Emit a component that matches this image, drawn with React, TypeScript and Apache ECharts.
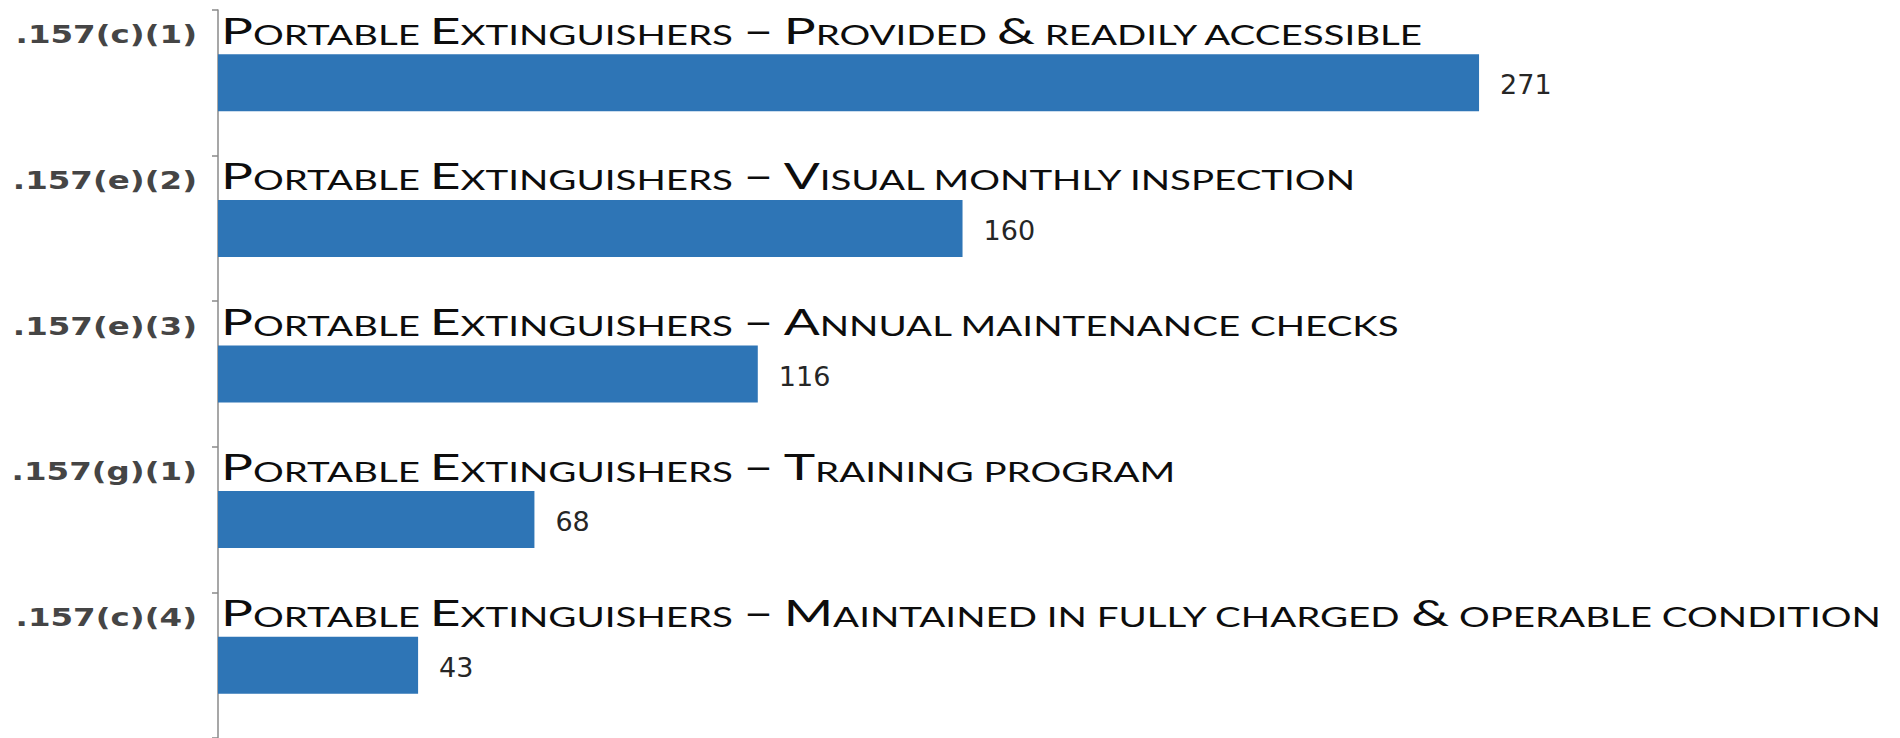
import React, { useEffect, useRef } from "react";
import * as echarts from "echarts";

const codes = [".157(c)(1)", ".157(e)(2)", ".157(e)(3)", ".157(g)(1)", ".157(c)(4)"];
const titles = [
  "Portable Extinguishers – Provided & readily accessible",
  "Portable Extinguishers – Visual monthly inspection",
  "Portable Extinguishers – Annual maintenance checks",
  "Portable Extinguishers – Training program",
  "Portable Extinguishers – Maintained in fully charged & operable condition",
];
const values = [271, 160, 116, 68, 43];
const axisMax = 300;

function smallCaps(s: string): string {
  let out = "";
  let cur = "";
  let curStyle = "";
  for (const ch of s) {
    const isLower = ch !== ch.toUpperCase();
    const st = isLower || ch === " " ? "s" : "b";
    const c = ch.toUpperCase();
    if (st !== curStyle && cur) {
      out += `{${curStyle}|${cur}}`;
      cur = "";
    }
    curStyle = st;
    cur += c;
  }
  if (cur) out += `{${curStyle}|${cur}}`;
  return out;
}

export default function App() {
  const ref = useRef<HTMLDivElement>(null);
  useEffect(() => {
    if (!ref.current) return;
    const chart = echarts.init(ref.current, undefined, { renderer: "svg" });
    chart.setOption({
      animation: false,
      backgroundColor: "#ffffff",
      grid: { left: 218, top: 10, width: 1396, height: 730, containLabel: false },
      xAxis: {
        type: "value",
        min: 0,
        max: axisMax,
        show: false,
        splitLine: { show: false },
      },
      yAxis: {
        type: "category",
        data: codes,
        inverse: true,
        axisLine: { show: true, lineStyle: { color: "#8a8a8a", width: 1.5 } },
        axisTick: { show: true, length: 6, lineStyle: { color: "#8a8a8a", width: 1.5 } },
        axisLabel: { show: false },
      },
      series: [
        {
          type: "bar",
          data: values,
          barWidth: 57,
          itemStyle: { color: "#2E75B6" },
          label: {
            show: true,
            position: "right",
            distance: 21,
            fontFamily: "DejaVu Sans",
            fontSize: 27,
            color: "#262626",
            offset: [0, 2],
          },
        },
        {
          type: "custom",
          clip: false,
          silent: true,
          data: titles.map((_, i) => [0, i]),
          renderItem: (params: any, api: any) => {
            const i = params.dataIndex;
            const pt = api.coord([api.value(0), api.value(1)]);
            return {
              type: "group",
              children: [
                {
                  type: "text",
                  x: pt[0] + 3,
                  y: pt[1] - 53,
                  scaleX: 1.48,
                  style: {
                    text: smallCaps(titles[i]),
                    align: "left",
                    verticalAlign: "middle",
                    rich: {
                      b: { fontFamily: "Lato", fontSize: 36, fill: "#0d0d0d", verticalAlign: "bottom" },
                      s: { fontFamily: "Lato", fontSize: 26, fill: "#0d0d0d", verticalAlign: "bottom" },
                    },
                  },
                },
                {
                  type: "text",
                  x: pt[0] - 21,
                  y: pt[1] - 48,
                  scaleX: 1.3,
                  style: {
                    text: codes[i],
                    align: "right",
                    verticalAlign: "middle",
                    fontFamily: "DejaVu Sans",
                    fontWeight: "bold",
                    fontSize: 25,
                    fill: "#454545",
                  },
                },
              ],
            };
          },
        },
      ],
    });
    return () => chart.dispose();
  }, []);
  return (
    <div
      ref={ref}
      style={{ position: "fixed", left: 0, top: 0, width: 1900, height: 738, background: "#fff" }}
    />
  );
}
